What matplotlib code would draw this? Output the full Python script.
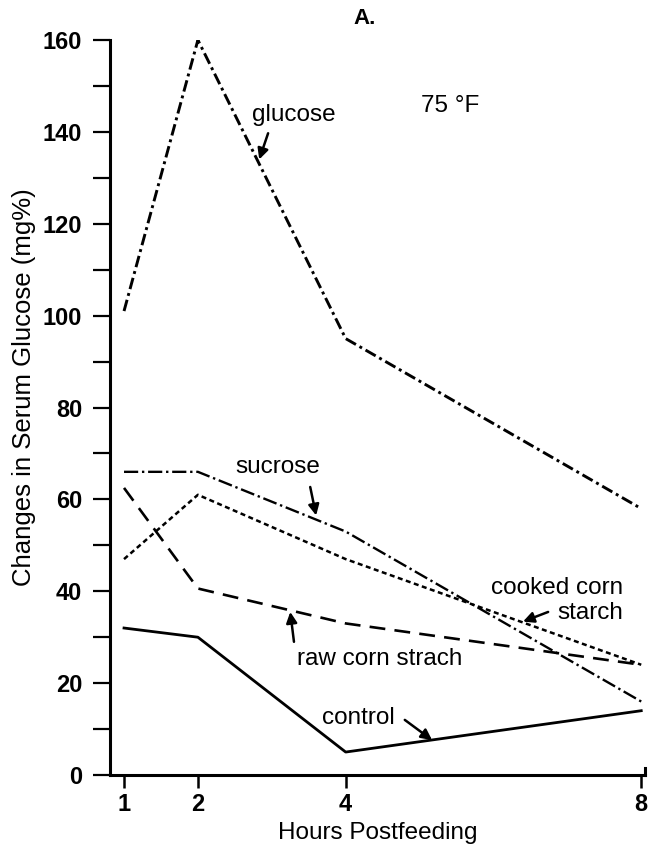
import matplotlib
matplotlib.use("Agg")
import matplotlib.pyplot as plt
from matplotlib.ticker import MultipleLocator

plt.rcParams["font.family"] = ["Liberation Sans", "DejaVu Sans"]

hours = [1, 2, 4, 8]
glucose = [101, 160, 95, 58]
sucrose = [66, 66, 53, 16]
cooked_starch = [47, 61, 47, 24]
raw_starch = [62.5, 40.6, 33, 24]
control = [32, 30, 5, 14]

y_ticks = [0, 20, 40, 60, 80, 100, 120, 140, 160]


def add_label(ax, text, xy, tail, tip, ha="center"):
    ax.text(xy[0], xy[1], text, fontsize=17.5, ha=ha, va="center", linespacing=1.2)
    ax.annotate(
        "",
        xy=tip,
        xytext=tail,
        arrowprops=dict(arrowstyle="-|>", lw=1.8, color="black", mutation_scale=16,
                        shrinkA=0, shrinkB=0),
    )


fig = plt.figure(figsize=(6.5, 8.46), dpi=100)
ax = fig.add_axes([0.1692, 0.0839, 0.823, 0.8688])

ax.plot(hours, glucose, color="black", lw=2.1, linestyle=(0, (4, 1.4, 1, 1.4)))
ax.plot(hours, sucrose, color="black", lw=1.7, linestyle=(0, (6, 1.6, 1, 1.6)))
ax.plot(hours, cooked_starch, color="black", lw=1.8, linestyle=(0, (2, 1.4)))
ax.plot(hours, raw_starch, color="black", lw=1.9, linestyle=(0, (6, 3.5)))
ax.plot(hours, control, color="black", lw=2.0)

ax.set_xlim(0.81, 8.05)
ax.set_ylim(0, 160)

ax.set_xticks(hours)
ax.set_xticklabels([str(h) for h in hours], fontsize=17, fontweight="bold")
ax.set_yticks(y_ticks)
ax.set_yticklabels([str(v) for v in y_ticks], fontsize=17, fontweight="bold")
ax.yaxis.set_minor_locator(MultipleLocator(10))

ax.tick_params(axis="y", which="both", direction="out", length=12, width=1.6, pad=8)
ax.tick_params(axis="x", which="both", direction="out", length=9, width=1.8, pad=4)

ax.spines["top"].set_visible(False)
ax.spines["right"].set_bounds(0, 1.5)
for side in ["left", "bottom", "right"]:
    ax.spines[side].set_linewidth(2.2)

ax.set_xlabel("Hours Postfeeding", fontsize=17.5, labelpad=4)
ax.set_ylabel("Changes in Serum Glucose (mg%)", fontsize=18.5)
ax.yaxis.set_label_coords(-0.139, 0.528)

ax.text(4.26, 164.6, "A.", fontsize=16, fontweight="bold", ha="center", va="center")
ax.text(5.41, 145.6, "75 °F", fontsize=17.5, ha="center", va="center")

add_label(ax, "glucose", (3.30, 143.7), (2.95, 139.7), (2.83, 134.0))
add_label(ax, "sucrose", (3.085, 67.0), (3.52, 62.7), (3.60, 56.5))
add_label(ax, "cooked corn\nstarch", (7.756, 38.0), (6.74, 35.5), (6.40, 33.4), ha="right")
add_label(ax, "raw corn strach", (4.466, 25.3), (3.30, 29.0), (3.25, 35.5))
add_label(ax, "control", (4.17, 12.5), (4.80, 12.0), (5.17, 7.6))

fig.savefig("out.png", dpi=100)
